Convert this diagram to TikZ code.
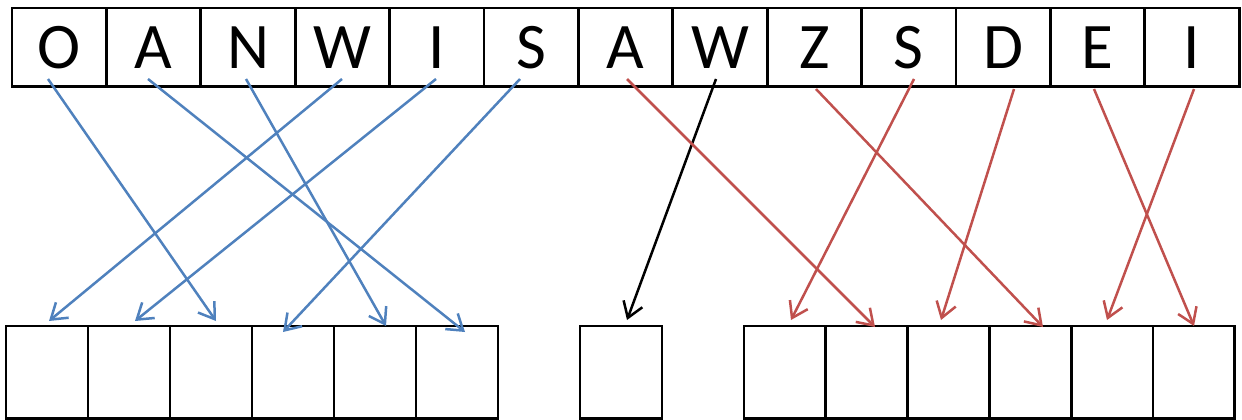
\documentclass[tikz,border=0pt]{standalone}
\usepackage{fontspec}
\setmainfont{Carlito}
\usetikzlibrary{arrows.meta}
\definecolor{ablue}{HTML}{4F81BD}
\definecolor{ared}{HTML}{C0504D}
\begin{document}
\begin{tikzpicture}[x=1pt,y=-1pt,
  topcell/.style={draw,line width=2.8pt,minimum width=94.4pt,minimum height=78.7pt,inner sep=0pt,outer sep=0pt,anchor=north west,font=\fontsize{65}{65}\selectfont},
  botcell/.style={draw,line width=2.8pt,minimum width=81.8pt,minimum height=92.8pt,inner sep=0pt,outer sep=0pt,anchor=north west},
  conn/.style={line width=2.5pt,-{Straight Barb[length=15pt,width=20pt,line width=2.5pt]}},
  bluearrow/.style={conn,draw=ablue},
  redarrow/.style={conn,draw=ared},
  blackarrow/.style={conn,draw=black}]
\useasboundingbox (0,0) rectangle (1242,420);
% top row
\foreach \l [count=\i from 0] in {O,A,N,W,I,S,A,W,Z,S,D,E,I}
  \node[topcell] (t\i) at ({12+94.4*\i},8) {\l};
% bottom groups
\foreach \i in {0,...,5}
  \node[botcell,minimum width=82pt] (bl\i) at ({6+82*\i},326) {};
\node[botcell,minimum width=82pt] (bm) at (580,326) {};
\foreach \i in {0,...,5}
  \node[botcell] (br\i) at ({744+81.8*\i},326) {};
% connector end points
\coordinate (sO) at (48,79);   \coordinate (eO) at (216,321);
\coordinate (sA) at (148,79);  \coordinate (eA) at (465,332);
\coordinate (sN) at (246,79);  \coordinate (eN) at (386,326);
\coordinate (sW) at (342,79);  \coordinate (eW) at (49,321);
\coordinate (sI) at (436,79);  \coordinate (eI) at (135,321);
\coordinate (sS) at (520,79);  \coordinate (eS) at (283,332);
\coordinate (sW2) at (716,79); \coordinate (eW2) at (627,320);
\coordinate (sA2) at (627,79); \coordinate (eA2) at (875,327);
\coordinate (sZ) at (816,89);  \coordinate (eZ) at (1043,327);
\coordinate (sS2) at (914,79); \coordinate (eS2) at (791,320);
\coordinate (sD) at (1014,89); \coordinate (eD) at (941,320);
\coordinate (sE) at (1094,89); \coordinate (eE) at (1194,326);
\coordinate (sI2) at (1194,89);\coordinate (eI2) at (1107,320);
% blue
\draw[bluearrow] (sO) -- (eO);
\draw[bluearrow] (sA) -- (eA);
\draw[bluearrow] (sN) -- (eN);
\draw[bluearrow] (sW) -- (eW);
\draw[bluearrow] (sI) -- (eI);
\draw[bluearrow] (sS) -- (eS);
% black
\draw[blackarrow] (sW2) -- (eW2);
% red
\draw[redarrow] (sA2) -- (eA2);
\draw[redarrow] (sZ) -- (eZ);
\draw[redarrow] (sS2) -- (eS2);
\draw[redarrow] (sD) -- (eD);
\draw[redarrow] (sE) -- (eE);
\draw[redarrow] (sI2) -- (eI2);
\end{tikzpicture}
\end{document}
